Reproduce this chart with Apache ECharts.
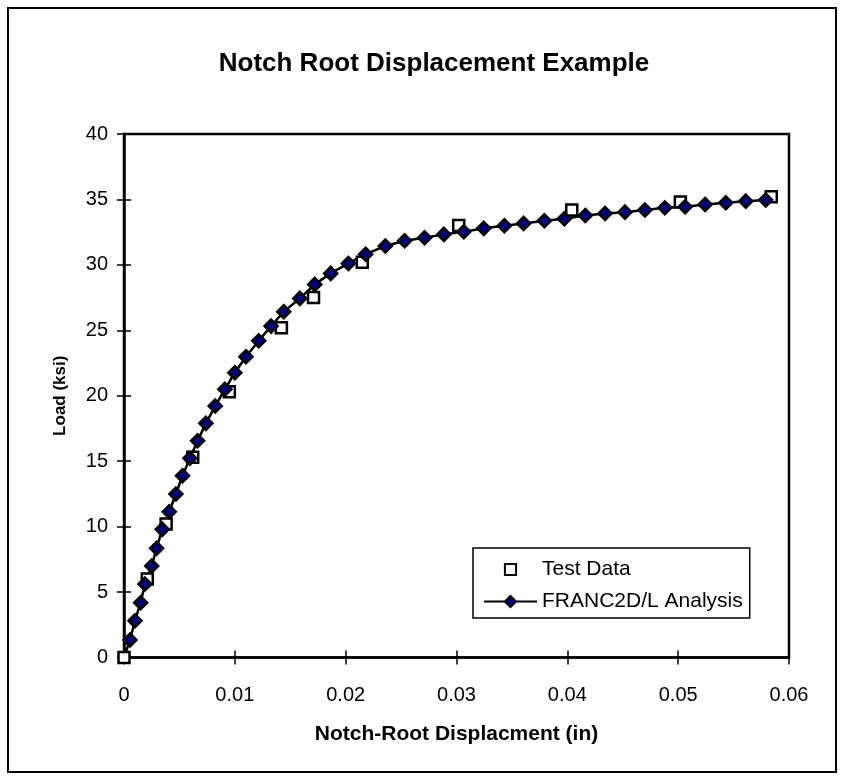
<!DOCTYPE html>
<html>
<head>
<meta charset="utf-8">
<script src="https://cdn.jsdelivr.net/npm/echarts@6/dist/echarts.min.js"></script>
<style>
  html, body { margin: 0; padding: 0; background: #fff; }
  #chart { width: 844px; height: 780px; }
</style>
</head>
<body>
<div id="chart"></div>
<script>
// measured points
var testX = [0, 0.0021, 0.0038, 0.0062, 0.0095, 0.0142, 0.0171, 0.0215, 0.0302, 0.0404, 0.0502, 0.0584];
var testY = [0, 6.0, 10.2, 15.3, 20.3, 25.2, 27.5, 30.2, 33.0, 34.2, 34.8, 35.2];

// FRANC2D/L analysis curve
var francX = [0, 0.00054, 0.00099, 0.0015, 0.00189, 0.0025, 0.00294, 0.00345, 0.00408, 0.00468,
  0.00528, 0.00595, 0.00664, 0.00739, 0.00823, 0.0091, 0.0100, 0.0110, 0.01216, 0.01327,
  0.01441, 0.01586, 0.01721, 0.01865, 0.02024, 0.0218, 0.02358, 0.02532, 0.02712, 0.02886,
  0.03066, 0.03246, 0.03432, 0.03606, 0.03793, 0.03973, 0.04162, 0.0434, 0.0452, 0.047,
  0.0488, 0.05063, 0.05243, 0.0543, 0.0561, 0.0579];
var francY = [0, 1.34, 2.81, 4.19, 5.61, 6.99, 8.34, 9.79, 11.14, 12.49,
  13.89, 15.22, 16.56, 17.89, 19.21, 20.49, 21.76, 22.98, 24.2, 25.32,
  26.42, 27.44, 28.51, 29.35, 30.11, 30.82, 31.44, 31.84, 32.07, 32.33,
  32.53, 32.79, 32.99, 33.17, 33.37, 33.52, 33.78, 33.93, 34.03, 34.19,
  34.36, 34.44, 34.62, 34.74, 34.87, 34.95];

var font = 'Liberation Sans, Arial, sans-serif';

var testData = testX.map(function (x, i) { return [x, testY[i]]; });
var francData = francX.map(function (x, i) {
  // analysis starts at the origin without a marker
  if (i === 0) return { value: [x, francY[i]], symbol: 'none' };
  return [x, francY[i]];
});

var chart = echarts.init(document.getElementById('chart'));

var xBase = { type: 'value', min: 0, max: 0.06, interval: 0.01, position: 'bottom', offset: 0, splitLine: { show: false } };
var yBase = { type: 'value', min: 0, max: 40, interval: 5, position: 'left', offset: 0, splitLine: { show: false } };

chart.setOption({
  animation: false,
  backgroundColor: '#fff',
  title: {
    text: 'Notch Root Displacement Example',
    left: 429,
    top: 46,
    textAlign: 'center',
    textStyle: { fontFamily: font, fontSize: 26, fontWeight: 'bold', color: '#000' }
  },
  graphic: [{
    type: 'rect',
    shape: { x: 8, y: 8, width: 828, height: 764 },
    style: { fill: null, stroke: '#000', lineWidth: 2 },
    z: 100
  }],
  grid: {
    left: 124, right: 55, top: 134, bottom: 122.5,
    show: true, borderColor: '#000', borderWidth: 2.5, backgroundColor: 'transparent'
  },
  legend: {
    orient: 'vertical',
    left: 473,
    top: 548,
    padding: [11, 7, 6, 10],
    itemWidth: 53,
    itemHeight: 14,
    itemGap: 11,
    borderColor: '#000',
    borderWidth: 1.5,
    borderRadius: 0,
    textStyle: { fontFamily: font, fontSize: 21, color: '#000', lineHeight: 21 },
    data: [
      { name: 'Test Data', lineStyle: { opacity: 0 } },
      { name: 'FRANC2D/L Analysis' }
    ]
  },
  xAxis: [
    Object.assign({}, xBase, {
      name: 'Notch-Root Displacment (in)',
      nameLocation: 'middle',
      nameGap: 66,
      nameTextStyle: { fontFamily: font, fontSize: 21, fontWeight: 'bold', color: '#000' },
      axisLine: { show: true, lineStyle: { color: '#000', width: 2.5 } },
      axisTick: { show: true, length: 7, lineStyle: { color: '#000', width: 1.5 } },
      axisLabel: { margin: 28, fontFamily: font, fontSize: 20, color: '#000' }
    }),
    Object.assign({}, xBase, {
      axisLine: { show: false },
      axisTick: { show: true, inside: true, length: 7, lineStyle: { color: '#000', width: 1.5 } },
      axisLabel: { show: false }
    })
  ],
  yAxis: [
    Object.assign({}, yBase, {
      name: 'Load (ksi)',
      nameLocation: 'middle',
      nameGap: 55,
      nameTextStyle: { fontFamily: font, fontSize: 17, fontWeight: 'bold', color: '#000' },
      axisLine: { show: true, lineStyle: { color: '#000', width: 2.5 } },
      axisTick: { show: true, length: 7, lineStyle: { color: '#000', width: 1.5 } },
      axisLabel: { margin: 16, fontFamily: font, fontSize: 20, color: '#000' }
    }),
    Object.assign({}, yBase, {
      axisLine: { show: false },
      axisTick: { show: true, inside: true, length: 7, lineStyle: { color: '#000', width: 1.5 } },
      axisLabel: { show: false }
    })
  ],
  series: [
    {
      name: 'Test Data',
      type: 'line',
      data: testData,
      symbol: 'rect',
      symbolSize: 11,
      lineStyle: { width: 0, opacity: 0 },
      itemStyle: { color: '#fff', borderColor: '#000', borderWidth: 2.5 }
    },
    {
      name: 'FRANC2D/L Analysis',
      type: 'line',
      data: francData,
      symbol: 'diamond',
      symbolSize: 13,
      lineStyle: { color: '#000', width: 2.5 },
      itemStyle: { color: '#000080', borderColor: '#000', borderWidth: 2.5 }
    }
  ]
});
</script>
</body>
</html>
